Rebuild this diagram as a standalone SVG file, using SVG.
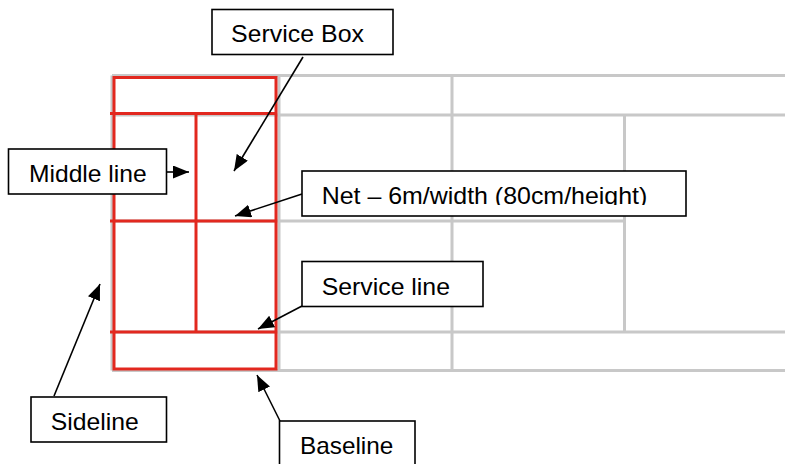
<svg xmlns="http://www.w3.org/2000/svg" width="785" height="464" viewBox="0 0 785 464">
<style>
.grid{stroke:#c8c8c8;stroke-width:3;fill:none}
.court{stroke:#e2281f;stroke-width:3;fill:none}
.box{fill:#fff;stroke:#000;stroke-width:1.6}
.lbl{font-family:"Liberation Sans",Arial,sans-serif;font-size:24px;fill:#000}
.conn{stroke:#000;stroke-width:1.6;fill:none;marker-end:url(#ah)}
</style>
<defs>
<marker id="ah" markerUnits="userSpaceOnUse" markerWidth="17" markerHeight="14" refX="16" refY="6.5" orient="auto">
<path d="M0,0 L16,6.5 L0,13 z" fill="#000"/>
</marker>
<clipPath id="netclip"><rect x="302" y="171" width="384" height="34"/></clipPath>
</defs>
<rect width="785" height="464" fill="#fff"/>
<g id="grid" class="grid">
<line x1="112" y1="75.5" x2="785" y2="75.5"/>
<line x1="112" y1="115" x2="785" y2="115"/>
<line x1="112" y1="221" x2="626" y2="221"/>
<line x1="112" y1="332" x2="785" y2="332"/>
<line x1="112" y1="370.5" x2="785" y2="370.5"/>
<line x1="112" y1="75.5" x2="112" y2="370.5"/>
<line x1="279" y1="75.5" x2="279" y2="370.5"/>
<line x1="452" y1="75.5" x2="452" y2="370.5"/>
<line x1="624.5" y1="115" x2="624.5" y2="332"/>
</g>
<g id="court" class="court">
<rect x="114" y="77.5" width="162" height="291.5"/>
<line x1="110" y1="113.5" x2="276" y2="113.5"/>
<line x1="110" y1="221" x2="276" y2="221"/>
<line x1="110" y1="332" x2="276" y2="332"/>
<line x1="196" y1="113.5" x2="196" y2="332"/>
</g>
<g id="connectors">
<line class="conn" x1="303" y1="57" x2="234" y2="171"/>
<line class="conn" x1="167" y1="172" x2="189" y2="172"/>
<line class="conn" x1="302" y1="194" x2="235" y2="216"/>
<line class="conn" x1="302" y1="306" x2="258" y2="329"/>
<line class="conn" x1="54" y1="396" x2="100" y2="284"/>
<line class="conn" x1="280" y1="421" x2="257" y2="375"/>
</g>
<g id="service-box">
<rect class="box" x="212" y="9.5" width="181" height="45"/>
<text class="lbl" x="231" y="42" textLength="133" lengthAdjust="spacingAndGlyphs">Service Box</text>
</g>
<g id="middle-line">
<rect class="box" x="8.5" y="149" width="158" height="45"/>
<text class="lbl" x="29" y="182" textLength="117.7" lengthAdjust="spacingAndGlyphs">Middle line</text>
</g>
<g id="net">
<rect class="box" x="302" y="171" width="384" height="45"/>
<text class="lbl" x="321.7" y="203.5" textLength="325.6" lengthAdjust="spacingAndGlyphs" clip-path="url(#netclip)">Net – 6m/width (80cm/height)</text>
</g>
<g id="service-line">
<rect class="box" x="302" y="261.5" width="181" height="45"/>
<text class="lbl" x="321.7" y="295" textLength="128.3" lengthAdjust="spacingAndGlyphs">Service line</text>
</g>
<g id="sideline">
<rect class="box" x="31" y="397" width="135.5" height="45"/>
<text class="lbl" x="50.7" y="429.5" textLength="88" lengthAdjust="spacingAndGlyphs">Sideline</text>
</g>
<g id="baseline">
<rect class="box" x="279.5" y="421" width="135.5" height="50"/>
<text class="lbl" x="300" y="453.5" textLength="93.3" lengthAdjust="spacingAndGlyphs">Baseline</text>
</g>
</svg>
